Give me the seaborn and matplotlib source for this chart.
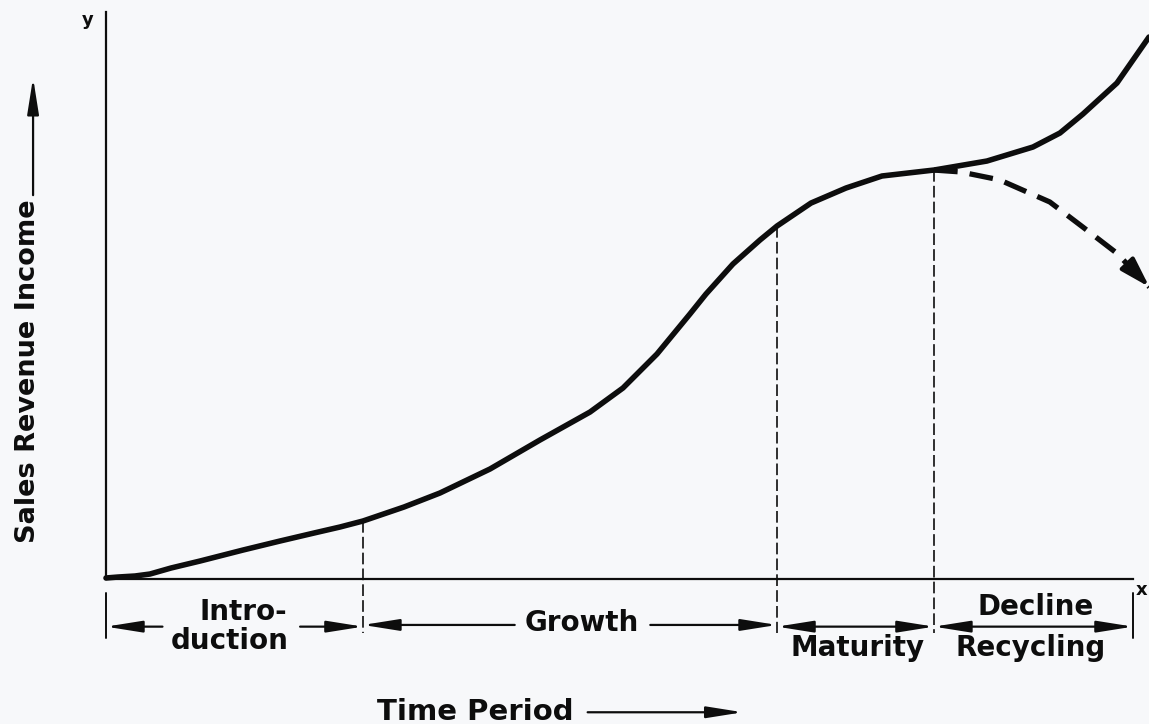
import numpy as np
import pandas as pd
import seaborn as sns
import matplotlib
matplotlib.use("Agg")
import matplotlib.pyplot as plt

# ---------------- data (time units 0..10, revenue units 0..100) ----------------
time_main = [0.000, 0.117, 0.282, 0.428, 0.633, 0.915, 1.334, 1.694, 2.025, 2.278,
             2.502, 2.902, 3.252, 3.739, 4.226, 4.713, 5.034, 5.365, 5.686, 5.842,
             6.105, 6.368, 6.534, 6.865, 7.206, 7.556, 8.062, 8.578, 9.026, 9.289,
             9.513, 9.844, 10.156]
revenue_main = [0.18, 0.35, 0.53, 0.88, 1.94, 3.17, 5.11, 6.70, 8.11, 9.17,
                10.23, 12.70, 15.17, 19.40, 24.52, 29.45, 33.69, 39.68, 46.74, 50.26,
                55.56, 59.79, 62.26, 66.31, 68.96, 71.08, 72.13, 73.72, 76.19, 78.66,
                82.01, 87.48, 95.59]

time_decline = [8.062, 8.32, 8.70, 9.19, 9.51, 9.84, 10.16]
revenue_decline = [72.13, 71.8, 70.4, 66.5, 62.1, 57.5, 51.5]

phase_bounds = [0.0, 2.502, 6.534, 8.062, 10.0]
phase_tops = [None, 10.23, 62.26, 72.13, None]

BG = "#f7f8fa"
INK = "#0d0d0d"

sns.set_theme(style="white")
plt.rcParams["font.family"] = ["DejaVu Sans"]
plt.rcParams["font.weight"] = "bold"

fig = plt.figure(figsize=(11.49, 7.24), dpi=100, facecolor=BG)
ax = fig.add_axes([0, 0, 1, 1])
ax.set_facecolor(BG)

df_main = pd.DataFrame({"time": time_main, "revenue": revenue_main})
df_dec = pd.DataFrame({"time": time_decline, "revenue": revenue_decline})

sns.lineplot(data=df_main, x="time", y="revenue", ax=ax, color=INK, lw=4.0,
             sort=False, estimator=None)
sns.lineplot(data=df_dec, x="time", y="revenue", ax=ax, color=INK, lw=3.8,
             sort=False, estimator=None)
main_line, dec_line = ax.lines[0], ax.lines[1]
main_line.set_solid_joinstyle("round")
main_line.set_solid_capstyle("round")
dec_line.set_dashes((4.5, 2.3))
dec_line.set_dash_joinstyle("round")
# arrowhead on the decline branch
ax.annotate("", xy=(time_decline[-1], revenue_decline[-1]),
            xytext=(time_decline[-2] + 0.12, revenue_decline[-2] - 2.2),
            arrowprops=dict(arrowstyle="-|>,head_length=1.8,head_width=0.55",
                            color=INK, lw=3, mutation_scale=10,
                            shrinkA=0, shrinkB=0), annotation_clip=False)

ax.set_xlim(-1.032, 10.156)
ax.set_ylim(-25.57, 102.12)

# axes lines
ax.spines[["top", "right"]].set_visible(False)
for s in ["left", "bottom"]:
    ax.spines[s].set_position(("data", 0))
    ax.spines[s].set_color(INK)
    ax.spines[s].set_linewidth(1.6)
ax.spines["left"].set_bounds(0, 100)
ax.spines["bottom"].set_bounds(0, 10)
ax.set_xticks([])
ax.set_yticks([])
ax.set_xlabel("")
ax.set_ylabel("")

ax.text(-0.175, 98.6, "y", fontsize=13, ha="center", va="center", color=INK)
ax.text(10.08, -1.9, "x", fontsize=13, ha="center", va="center", color=INK)

# phase boundary dashed lines
for b, top in zip(phase_bounds, phase_tops):
    if top is not None:
        ax.plot([b, b], [top, -9.6], color=INK, lw=1.2, dashes=(7, 2.5))
# end ticks
for b in (phase_bounds[0], phase_bounds[-1]):
    ax.plot([b, b], [-2.5, -10.4], color=INK, lw=1.4)

row = -8.4
ap = dict(arrowstyle="-|>,head_length=2.2,head_width=0.35", color=INK, lw=1.6,
          mutation_scale=10, shrinkA=0, shrinkB=0)
apd = dict(arrowstyle="<|-|>,head_length=2.2,head_width=0.35", color=INK, lw=1.6,
           mutation_scale=10, shrinkA=0, shrinkB=0)


def arrow(x0, x1, y=row, props=ap):
    ax.annotate("", xy=(x1, y), xytext=(x0, y), arrowprops=props,
                annotation_clip=False)


# Introduction
arrow(0.55, phase_bounds[0])
arrow(1.89, phase_bounds[1])
# Growth
arrow(3.98, phase_bounds[1], y=-8.1)
arrow(5.30, phase_bounds[2], y=-8.1)
# Maturity
arrow(phase_bounds[2], phase_bounds[3], props=apd)
# Decline / Recycling
arrow(phase_bounds[3], phase_bounds[4], props=apd)

fs = 20
ax.text(1.334, -5.8, "Intro-", fontsize=fs, ha="center", va="center", color=INK)
ax.text(1.207, -10.9, "duction", fontsize=fs, ha="center", va="center", color=INK)
ax.text(4.635, -7.8, "Growth", fontsize=fs, ha="center", va="center", color=INK)
ax.text(7.32, -12.1, "Maturity", fontsize=fs, ha="center", va="center", color=INK)
ax.text(9.05, -5.0, "Decline", fontsize=fs, ha="center", va="center", color=INK)
ax.text(9.00, -12.1, "Recycling", fontsize=fs, ha="center", va="center", color=INK)

ax.text(3.60, -23.4, "Time Period", fontsize=21, ha="center", va="center", color=INK)
ax.annotate("", xy=(6.20, -23.5), xytext=(4.69, -23.5), arrowprops=ap,
            annotation_clip=False)

ax.text(-0.76, 36.7, "Sales Revenue Income", fontsize=19.5, rotation=90,
        ha="center", va="center", color=INK)
ax.annotate("", xy=(-0.71, 88.4), xytext=(-0.71, 67.7), arrowprops=ap,
            annotation_clip=False)

fig.savefig("out.png", dpi=100, facecolor=BG)
